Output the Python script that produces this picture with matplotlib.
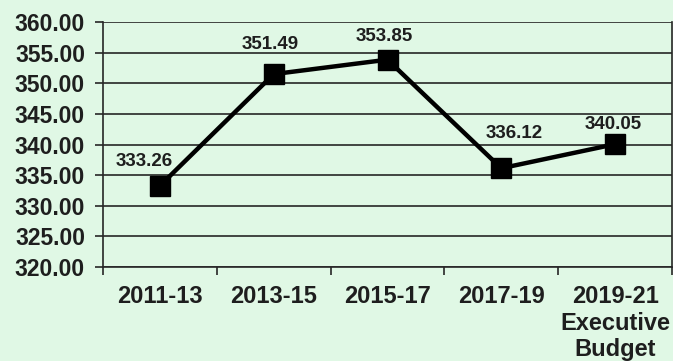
import numpy as np
import matplotlib.pyplot as plt

# Biennium totals
periods = ["2011-13", "2013-15", "2015-17", "2017-19", "2019-21\nExecutive\nBudget"]
values = [333.26, 351.49, 353.85, 336.12, 340.05]
# label nudges (pixels) so the numbers clear the line
label_dx = [-16, -4, -3, 13, -2]
label_dy = [24, 30, 23, 35, 20]

bg = "#e0f8e5"
ink = "#1e1e1e"

plt.rcParams['font.family'] = ['Liberation Sans', 'DejaVu Sans']

fig = plt.figure(figsize=(6.73, 3.61), dpi=100, facecolor=bg)
ax = fig.add_axes([103 / 673, 1 - 267 / 361, 569 / 673, 245 / 361])
ax.set_facecolor(bg)

x = np.arange(len(values))
ax.plot(x, values, color="black", lw=3.2, marker="s", markersize=14,
        markerfacecolor="black", zorder=3)

for xi, v, dx, dy in zip(x, values, label_dx, label_dy):
    ax.annotate(f"{v:.2f}", (xi, v), xytext=(dx * 0.72, dy * 0.72),
                textcoords="offset points", ha="center", va="center",
                fontsize=13.5, fontweight="bold", color=ink)

ax.set_xlim(-0.5, len(values) - 0.5)
ax.set_ylim(320, 360)
ax.set_yticks(np.arange(320, 361, 5))
ax.set_yticklabels([f"{t:.2f}" for t in np.arange(320, 361, 5)])
ax.yaxis.grid(True, color="#262626", lw=1.2)
ax.set_axisbelow(True)

ax.set_xticks(x)
ax.set_xticklabels(periods)
ax.set_xticks(np.arange(-0.5, len(values)), minor=True)
ax.tick_params(axis="x", which="major", length=0, pad=13, labelsize=17,
               colors=ink)
ax.tick_params(axis="x", which="minor", length=6, width=1.2, color="#262626")
ax.tick_params(axis="y", length=6, width=1.2, color="#262626", pad=7,
               labelsize=16.5, colors=ink)
for lbl in ax.get_xticklabels() + ax.get_yticklabels():
    lbl.set_fontweight("bold")
    lbl.set_linespacing(1.2)

for side in ["left", "right", "bottom"]:
    ax.spines[side].set_color("#262626")
    ax.spines[side].set_linewidth(1.2)
ax.spines["top"].set_visible(False)

fig.savefig("out.png", dpi=100, facecolor=bg)
